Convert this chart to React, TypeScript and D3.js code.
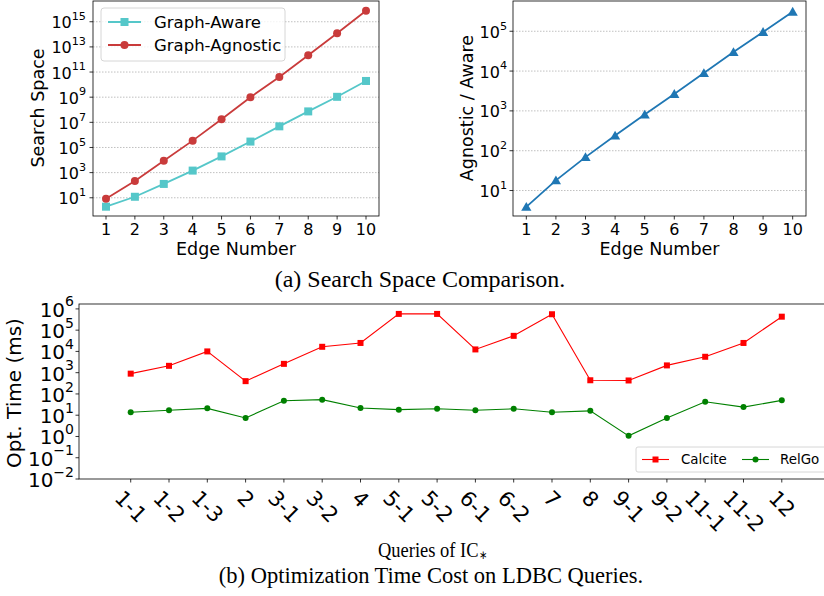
import React from 'react';
import * as d3 from 'd3';

// ---- data ----
const edges = [1, 2, 3, 4, 5, 6, 7, 8, 9, 10];
const awareSpace = [1.95, 12, 126, 1450, 1.95e4, 2.95e5, 4.8e6, 7.4e7, 1.07e9, 1.95e10];
const agnosticSpace = [8.3, 219, 8900, 3.5e5, 1.74e7, 1.0e9, 4.0e10, 2.2e12, 1.2e14, 7.4e15];
const ratio = [3.9, 18, 69, 240, 810, 2660, 8900, 30000, 96000, 310000];

const queries = ['1-1', '1-2', '1-3', '2', '3-1', '3-2', '4', '5-1', '5-2', '6-1', '6-2', '7', '8', '9-1', '9-2', '11-1', '11-2', '12'];
const calcite = [900, 2100, 10000, 400, 2600, 16500, 25000, 580000, 580000, 12400, 54000, 560000, 440, 430, 2200, 5600, 25000, 430000];
const relgo = [13.7, 17, 21, 7.4, 48, 54, 22, 18.3, 20, 17, 20, 13.7, 16, 1.07, 7.4, 43, 24, 50];

const spaceTicks = [1, 3, 5, 7, 9, 11, 13, 15];
const ratioTicks = [1, 2, 3, 4, 5];
const timeTicks = [-2, -1, 0, 1, 2, 3, 4, 5, 6];

const SANS = 'DejaVu Sans, sans-serif';
const SERIF = 'Liberation Serif, serif';
const AWARE = '#55c7c9';
const AGNOSTIC = '#c93b3b';
const RATIO = '#1f77b4';
const GRID = '#b0b0b0';

const Pow = ({ x, y, e, size, anchor = 'end' }: { x: number; y: number; e: number; size: number; anchor?: string }) => (
  <text x={x} y={y} fontSize={size} fontFamily={SANS} textAnchor={anchor} dominantBaseline="central">
    10
    <tspan dy={-size * 0.42} fontSize={size * 0.7}>
      {e < 0 ? '\u2212' + Math.abs(e) : e}
    </tspan>
  </text>
);

const Square = ({ cx, cy, s, fill }: { cx: number; cy: number; s: number; fill: string }) => (
  <rect x={cx - s / 2} y={cy - s / 2} width={s} height={s} fill={fill} />
);

const Triangle = ({ cx, cy, s, fill }: { cx: number; cy: number; s: number; fill: string }) => (
  <path d={d3.symbol(d3.symbolTriangle, s * s * 0.45)()!} transform={`translate(${cx},${cy + 1})`} fill={fill} />
);

// ---- top-left: search space ----
const SearchSpace = () => {
  const L = 93, R = 379, T = 1, B = 216;
  const x = d3.scaleLinear().domain([0.55, 10.45]).range([L, R]);
  const y = d3.scaleLog().domain([10 ** -0.45, 10 ** 16.65]).range([B, T]);
  const line = d3.line<number>().x((_, i) => x(edges[i])).y((d) => y(d));
  return (
    <g>
      {spaceTicks.map((e) => (
        <g key={e}>
          <line x1={L} x2={R} y1={y(10 ** e)} y2={y(10 ** e)} stroke={GRID} strokeWidth={0.8} strokeDasharray="1.5,1.5" />
          <line x1={L - 3.5} x2={L} y1={y(10 ** e)} y2={y(10 ** e)} stroke="#000" strokeWidth={0.8} />
          <Pow x={L - 7} y={y(10 ** e) + 1} e={e} size={16} />
        </g>
      ))}
      {edges.map((d) => (
        <g key={d}>
          <line x1={x(d)} x2={x(d)} y1={B} y2={B + 3.5} stroke="#000" strokeWidth={0.8} />
          <text x={x(d)} y={235} fontSize={16} fontFamily={SANS} textAnchor="middle">{d}</text>
        </g>
      ))}
      <path d={line(awareSpace)!} fill="none" stroke={AWARE} strokeWidth={1.8} />
      {awareSpace.map((d, i) => <Square key={i} cx={x(edges[i])} cy={y(d)} s={8} fill={AWARE} />)}
      <path d={line(agnosticSpace)!} fill="none" stroke={AGNOSTIC} strokeWidth={1.8} />
      {agnosticSpace.map((d, i) => <circle key={i} cx={x(edges[i])} cy={y(d)} r={4} fill={AGNOSTIC} />)}
      <rect x={L} y={T} width={R - L} height={B - T} fill="none" stroke="#000" strokeWidth={0.8} />
      <text x={(L + R) / 2} y={255} fontSize={17.5} fontFamily={SANS} textAnchor="middle">Edge Number</text>
      <text transform={`translate(38,108) rotate(-90)`} fontSize={17.5} fontFamily={SANS} textAnchor="middle" dominantBaseline="central">Search Space</text>
      {/* legend */}
      <rect x={101} y={8} width={184} height={53} rx={3} fill="#fff" fillOpacity={0.8} stroke="#ccc" strokeWidth={0.8} />
      <line x1={108} x2={141} y1={22} y2={22} stroke={AWARE} strokeWidth={1.8} />
      <Square cx={124.5} cy={22} s={8} fill={AWARE} />
      <text x={154} y={22} fontSize={16.5} fontFamily={SANS} dominantBaseline="central">Graph-Aware</text>
      <line x1={108} x2={141} y1={45} y2={45} stroke={AGNOSTIC} strokeWidth={1.8} />
      <circle cx={124.5} cy={45} r={4} fill={AGNOSTIC} />
      <text x={154} y={45} fontSize={16.5} fontFamily={SANS} dominantBaseline="central">Graph-Agnostic</text>
    </g>
  );
};

// ---- top-right: ratio ----
const Ratio = () => {
  const L = 513, R = 806, T = 1, B = 216;
  const x = d3.scaleLinear().domain([0.55, 10.45]).range([L, R]);
  const y = d3.scaleLog().domain([10 ** 0.36, 10 ** 5.76]).range([B, T]);
  const line = d3.line<number>().x((_, i) => x(edges[i])).y((d) => y(d));
  return (
    <g>
      {ratioTicks.map((e) => (
        <g key={e}>
          <line x1={L} x2={R} y1={y(10 ** e)} y2={y(10 ** e)} stroke={GRID} strokeWidth={0.8} strokeDasharray="1.5,1.5" />
          <line x1={L - 3.5} x2={L} y1={y(10 ** e)} y2={y(10 ** e)} stroke="#000" strokeWidth={0.8} />
          <Pow x={L - 6} y={y(10 ** e) + 1} e={e} size={16} />
        </g>
      ))}
      {edges.map((d) => (
        <g key={d}>
          <line x1={x(d)} x2={x(d)} y1={B} y2={B + 3.5} stroke="#000" strokeWidth={0.8} />
          <text x={x(d)} y={235} fontSize={16} fontFamily={SANS} textAnchor="middle">{d}</text>
        </g>
      ))}
      <path d={line(ratio)!} fill="none" stroke={RATIO} strokeWidth={1.8} />
      {ratio.map((d, i) => <Triangle key={i} cx={x(edges[i])} cy={y(d)} s={10} fill={RATIO} />)}
      <rect x={L} y={T} width={R - L} height={B - T} fill="none" stroke="#000" strokeWidth={0.8} />
      <text x={(L + R) / 2} y={255} fontSize={17.5} fontFamily={SANS} textAnchor="middle">Edge Number</text>
      <text transform={`translate(467,108) rotate(-90)`} fontSize={17.5} fontFamily={SANS} textAnchor="middle" dominantBaseline="central">Agnostic / Aware</text>
    </g>
  );
};

// approximate DejaVu Sans advance widths (em)
const textWidth = (s: string, size: number) =>
  s.split('').reduce((a, c) => a + (c === '-' ? 0.361 : 0.636), 0) * size;

// ---- bottom: optimization time ----
const OptTime = () => {
  const L = 79, R = 833.5, T = 304, B = 479;
  const x = d3.scaleLinear().domain([-1.35, 18.35]).range([L, R]);
  const y = d3.scaleLog().domain([1e-2, 10 ** 6.23]).range([B, T]);
  const line = d3.line<number>().x((_, i) => x(i)).y((d) => y(d));
  const tf = 21;
  return (
    <g>
      {timeTicks.map((e) => (
        <g key={e}>
          <line x1={L - 3.5} x2={L} y1={y(10 ** e)} y2={y(10 ** e)} stroke="#000" strokeWidth={0.8} />
          <Pow x={L - 5} y={y(10 ** e) + 1} e={e} size={20} />
        </g>
      ))}
      {queries.map((q, i) => {
        const h = (textWidth(q, tf) + tf * 1.164) * Math.SQRT1_2;
        const cy = B + 7 + h / 2;
        return (
          <g key={q}>
            <line x1={x(i)} x2={x(i)} y1={B} y2={B + 3.5} stroke="#000" strokeWidth={0.8} />
            <text transform={`translate(${x(i)},${cy}) rotate(45)`} fontSize={tf} fontFamily={SANS} textAnchor="middle" dominantBaseline="central">{q}</text>
          </g>
        );
      })}
      <path d={line(calcite)!} fill="none" stroke="#ff0000" strokeWidth={1.1} />
      {calcite.map((d, i) => <Square key={i} cx={x(i)} cy={y(d)} s={6} fill="#ff0000" />)}
      <path d={line(relgo)!} fill="none" stroke="#008000" strokeWidth={1.1} />
      {relgo.map((d, i) => <circle key={i} cx={x(i)} cy={y(d)} r={3} fill="#008000" />)}
      <rect x={L} y={T} width={R - L} height={B - T} fill="none" stroke="#000" strokeWidth={0.8} />
      <text transform={`translate(14,393) rotate(-90)`} fontSize={20} fontFamily={SANS} textAnchor="middle" dominantBaseline="central">Opt. Time (ms)</text>
      {/* legend */}
      <rect x={636} y={447} width={190} height={25} rx={2} fill="#fff" fillOpacity={0.8} stroke="#ccc" strokeWidth={0.8} />
      <line x1={642} x2={669} y1={459.5} y2={459.5} stroke="#ff0000" strokeWidth={1.1} />
      <Square cx={655.5} cy={459.5} s={6} fill="#ff0000" />
      <text x={681} y={459.5} fontSize={13.4} fontFamily={SANS} dominantBaseline="central">Calcite</text>
      <line x1={742} x2={769} y1={459.5} y2={459.5} stroke="#008000" strokeWidth={1.1} />
      <circle cx={755.5} cy={459.5} r={3} fill="#008000" />
      <text x={780} y={459.5} fontSize={13.4} fontFamily={SANS} dominantBaseline="central">RelGo</text>
      <text x={378} y={557} fontSize={22} fontFamily={SERIF} textLength={109} lengthAdjust="spacingAndGlyphs">
        Queries of IC<tspan fontSize={12} dy={2}>{'\u2217'}</tspan>
      </text>
    </g>
  );
};

export default function App() {
  return (
    <svg width={824} height={596} style={{ position: 'absolute', left: 0, top: 0, background: '#fff' }}>
      <rect width={824} height={596} fill="#fff" />
      <SearchSpace />
      <Ratio />
      <text x={420} y={287} fontSize={24} fontFamily={SERIF} textAnchor="middle">(a) Search Space Comparison.</text>
      <OptTime />
      <text x={431} y={583} fontSize={22.5} fontFamily={SERIF} textAnchor="middle">(b) Optimization Time Cost on LDBC Queries.</text>
    </svg>
  );
}
